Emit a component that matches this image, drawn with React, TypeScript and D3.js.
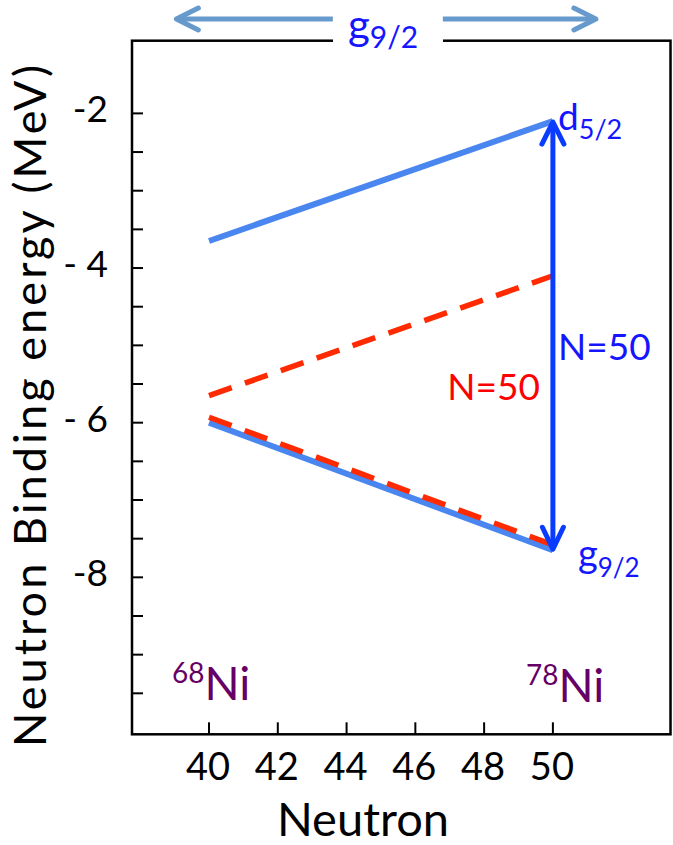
import React from 'react';
import * as d3 from 'd3';

// level energies at N=40 (68Ni) and N=50 (78Ni), MeV
const neutronEnds = [40, 50];
const d52Energy = [-3.65, -2.1];
const g92Energy = [-6.0, -7.65];
const redUpperEnergy = [-5.65, -4.1];
const redLowerEnergy = [-5.93, -7.58];

const xTickValues = [40, 42, 44, 46, 48, 50];
const yTickValues = [-2, -2.5, -3, -3.5, -4, -4.5, -5, -5.5, -6, -6.5, -7, -7.5, -8, -8.5, -9, -9.5];
const yLabelValues = [-2, -4, -6, -8];
const yLabelTexts = ['-2', '- 4', '- 6', '-8'];

// top g9/2 span arrows, in neutron units
const topArrowLeft = [39.05, 43.6];
const topArrowRight = [46.8, 51.25];

const W = 673;
const H = 845;
const FONT = 'Lato, "Open Sans", sans-serif';
const LEVEL_BLUE = '#4a86f0';
const ARROW_BLUE = '#0a3cff';
const TEXT_BLUE = '#1515ff';
const RED = '#ff2a00';
const PURPLE = '#660066';

const App = () => {
  const x = d3.scaleLinear().domain([37.76, 53.42]).range([132, 670.5]);
  const y = d3.scaleLinear().domain([-10.03, -1.06]).range([734.3, 40.7]);

  const line = d3.line<[number, number]>()
    .x(d => x(d[0]))
    .y(d => y(d[1]));
  const pts = (vals: number[]) => neutronEnds.map((n, i) => [n, vals[i]] as [number, number]);

  const left = x.range()[0];
  const right = x.range()[1];
  const top = y.range()[1];
  const bottom = y.range()[0];

  // vertical N=50 gap arrow
  const ax = x(50);
  const aTop = y(d52Energy[1]);
  const aBot = y(g92Energy[1]);

  const arrowTopY = 19;
  const chevron = (tipX: number, tipY: number, dx: number, dy: number, half: number) => {
    // dx,dy = unit direction the arrow points
    const bx = tipX - dx * 22;
    const by = tipY - dy * 22;
    const px = -dy * half;
    const py = dx * half;
    return `M${bx + px},${by + py}L${tipX},${tipY}L${bx - px},${by - py}`;
  };

  return (
    <svg width={W} height={H} style={{ position: 'absolute', left: 0, top: 0, background: '#fff' }}>
      {/* frame */}
      <rect x={left} y={top} width={right - left} height={bottom - top} fill="none" stroke="#000" strokeWidth={2.5} />

      {/* y ticks */}
      {yTickValues.map(v => (
        <line key={v} x1={left} x2={left + 11} y1={y(v)} y2={y(v)} stroke="#000" strokeWidth={2} />
      ))}
      {yLabelValues.map((v, i) => (
        <text key={v} x={108} y={y(v) + 9} textAnchor="end" fontFamily={FONT} fontSize={37} fill="#000">
          {yLabelTexts[i]}
        </text>
      ))}

      {/* x ticks */}
      {xTickValues.map(v => (
        <g key={v}>
          <line x1={x(v)} x2={x(v)} y1={bottom} y2={bottom - 12} stroke="#000" strokeWidth={2} />
          <text x={x(v) - 1} y={780} textAnchor="middle" fontFamily={FONT} fontSize={38} fill="#000">{v}</text>
        </g>
      ))}

      {/* axis titles */}
      <text x={363} y={836} textAnchor="middle" fontFamily={FONT} fontSize={47} fill="#000">Neutron</text>
      <text transform="translate(46,406) rotate(-90)" textAnchor="middle" fontFamily={FONT} fontSize={45}
        fill="#000" textLength={682} lengthAdjust="spacing">
        Neutron Binding energy (MeV)
      </text>

      {/* level lines */}
      <path d={line(pts(d52Energy)) ?? ''} fill="none" stroke={LEVEL_BLUE} strokeWidth={6} />
      <path d={line(pts(g92Energy)) ?? ''} fill="none" stroke={LEVEL_BLUE} strokeWidth={6} />
      <path d={line(pts(redUpperEnergy)) ?? ''} fill="none" stroke={RED} strokeWidth={5.5} strokeDasharray="24 14" />
      <path d={line(pts(redLowerEnergy)) ?? ''} fill="none" stroke={RED} strokeWidth={5.5} strokeDasharray="24 14" />

      {/* N=50 gap arrow */}
      <line x1={ax} x2={ax} y1={aTop + 3} y2={aBot - 3} stroke={ARROW_BLUE} strokeWidth={5} />
      <path d={chevron(ax, aTop + 1, 0, -1, 11)} fill="none" stroke={ARROW_BLUE} strokeWidth={5} strokeLinecap="round" strokeLinejoin="round" />
      <path d={chevron(ax, aBot - 1, 0, 1, 10.5)} fill="none" stroke={ARROW_BLUE} strokeWidth={5} strokeLinecap="round" strokeLinejoin="round" />

      {/* labels */}
      <text x={558} y={130} fontFamily={FONT} fill={TEXT_BLUE}>
        <tspan fontSize={37}>d</tspan>
        <tspan fontSize={27} dy={9}>5/2</tspan>
      </text>
      <text x={578} y={567} fontFamily={FONT} fill={TEXT_BLUE}>
        <tspan fontSize={38}>g</tspan>
        <tspan fontSize={26} dy={10}>9/2</tspan>
      </text>
      <text x={558} y={360} fontFamily={FONT} fontSize={37} fill={TEXT_BLUE}>N=50</text>
      <text x={540} y={400} textAnchor="end" fontFamily={FONT} fontSize={37} fill="#ff0000">N=50</text>

      <text x={x(40) - 37} y={700} fontFamily={FONT} fill={PURPLE}>
        <tspan fontSize={28} dy={-17}>68</tspan>
        <tspan fontSize={46} dy={17}>Ni</tspan>
      </text>
      <text x={x(50) - 27} y={702} fontFamily={FONT} fill={PURPLE}>
        <tspan fontSize={28} dy={-17}>78</tspan>
        <tspan fontSize={46} dy={17}>Ni</tspan>
      </text>

      {/* top g9/2 span */}
      <rect x={333} y={30} width={110} height={22} fill="#fff" />
      <line x1={x(topArrowLeft[0]) + 3} x2={x(topArrowLeft[1])} y1={arrowTopY} y2={arrowTopY} stroke="#6699cc" strokeWidth={5} />
      <path d={chevron(x(topArrowLeft[0]), arrowTopY, -1, 0, 11)} fill="none" stroke="#6699cc" strokeWidth={5} strokeLinecap="round" strokeLinejoin="round" />
      <line x1={x(topArrowRight[0])} x2={x(topArrowRight[1]) - 3} y1={arrowTopY} y2={arrowTopY} stroke="#6699cc" strokeWidth={5} />
      <path d={chevron(x(topArrowRight[1]), arrowTopY, 1, 0, 11)} fill="none" stroke="#6699cc" strokeWidth={5} strokeLinecap="round" strokeLinejoin="round" />
      <text x={348} y={40} fontFamily={FONT} fill={TEXT_BLUE}>
        <tspan fontSize={42}>g</tspan>
        <tspan fontSize={30} dy={8}>9/2</tspan>
      </text>
    </svg>
  );
};

export default App;
